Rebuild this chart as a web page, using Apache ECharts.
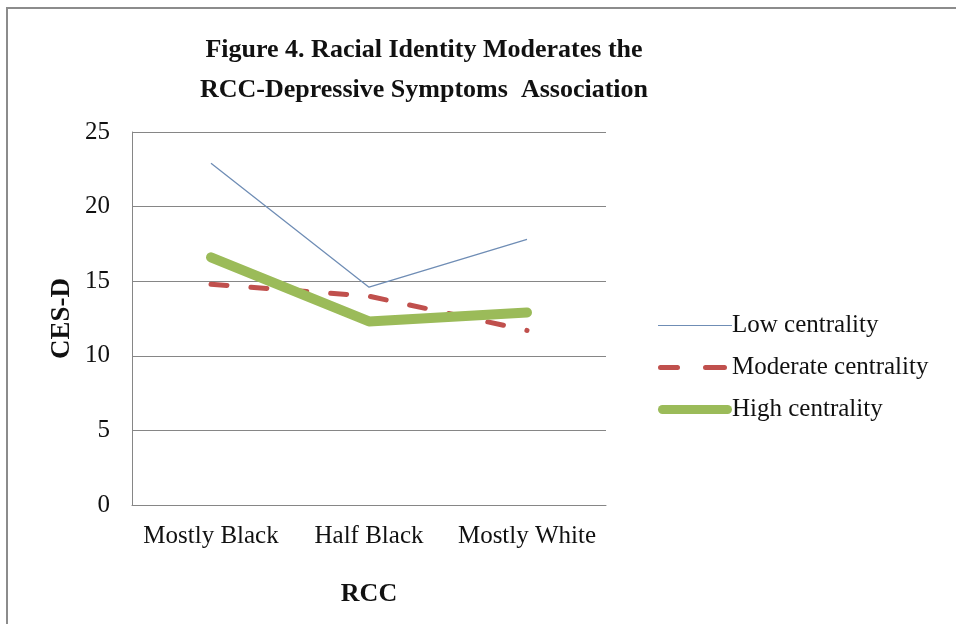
<!DOCTYPE html>
<html>
<head>
<meta charset="utf-8">
<script src="https://cdn.jsdelivr.net/npm/echarts@6/dist/echarts.min.js"></script>
<style>
  html, body { margin: 0; padding: 0; background: #fff; }
  #chart { width: 956px; height: 624px; }
</style>
</head>
<body>
<div id="chart"></div>
<script>
// data
const categories = ['Mostly Black', 'Half Black', 'Mostly White'];
const lowCentrality = [22.9, 14.6, 17.8];
const moderateCentrality = [14.8, 14.0, 11.7];
const highCentrality = [16.6, 12.3, 12.9];

const serif = 'Liberation Serif, Times New Roman, serif';

// legend swatches like the Excel ones (box 74x10, first two moves fix the bounds)
const iconThin = 'path://M0,0M74,10M0,4.4h74v1.2h-74z';
const iconDash = 'path://M0,0M74,10M2.5,2.5h17a2.5,2.5 0 0 1 0,5h-17a2.5,2.5 0 0 1 0,-5zM47.5,2.5h19a2.5,2.5 0 0 1 0,5h-19a2.5,2.5 0 0 1 0,-5z';
const iconThick = 'path://M0,0M74,10M4.5,0.5h65a4.5,4.5 0 0 1 0,9h-65a4.5,4.5 0 0 1 0,-9z';

const chart = echarts.init(document.getElementById('chart'));
chart.setOption({
  backgroundColor: '#fff',
  animation: false,
  title: {
    text: 'Figure 4. Racial Identity Moderates the\nRCC-Depressive Symptoms  Association',
    left: 419,
    top: 25,
    textAlign: 'center',
    textStyle: {
      fontFamily: serif,
      fontSize: 26,
      fontWeight: 'bold',
      color: '#111',
      lineHeight: 40,
    },
  },
  graphic: [
    {
      type: 'polyline',
      shape: { points: [[7, 624], [7, 8], [956, 8]] },
      style: { stroke: '#8c8c8c', lineWidth: 2, fill: null },
    },
  ],
  legend: {
    orient: 'vertical',
    left: 653,
    top: 308,
    itemWidth: 74,
    itemHeight: 10,
    itemGap: 17,
    symbolKeepAspect: false,
    textStyle: { fontFamily: serif, fontSize: 25, color: '#111', padding: [0, 0, 0, -5] },
    data: [
      { name: 'Low centrality', icon: iconThin },
      { name: 'Moderate centrality', icon: iconDash },
      { name: 'High centrality', icon: iconThick },
    ],
  },
  grid: { left: 132, right: 350, top: 132, bottom: 119 },
  xAxis: {
    type: 'category',
    data: categories,
    boundaryGap: true,
    name: 'RCC',
    nameLocation: 'middle',
    nameGap: 76,
    nameTextStyle: { fontFamily: serif, fontSize: 26, fontWeight: 'bold', color: '#111' },
    axisLine: { lineStyle: { color: '#868686', width: 1 } },
    axisTick: { show: false },
    axisLabel: { fontFamily: serif, fontSize: 25, color: '#111', margin: 19, interval: 0 },
  },
  yAxis: {
    type: 'value',
    min: 0,
    max: 25,
    interval: 5,
    name: 'CES-D',
    nameLocation: 'middle',
    nameGap: 56,
    nameRotate: 90,
    nameTextStyle: { fontFamily: serif, fontSize: 27, fontWeight: 'bold', color: '#111' },
    axisLine: { show: true, lineStyle: { color: '#868686', width: 1 } },
    axisTick: { show: false },
    axisLabel: { fontFamily: serif, fontSize: 25, color: '#111', margin: 22 },
    splitLine: { lineStyle: { color: '#868686', width: 1 } },
  },
  series: [
    {
      name: 'Low centrality',
      type: 'line',
      data: lowCentrality,
      symbol: 'none',
      color: '#6f8db5',
      lineStyle: { color: '#6f8db5', width: 1.3 },
      z: 4,
    },
    {
      name: 'Moderate centrality',
      type: 'line',
      data: moderateCentrality,
      symbol: 'none',
      color: '#c0504d',
      lineStyle: { color: '#c0504d', width: 5, type: [16, 24], cap: 'round' },
      z: 2,
    },
    {
      name: 'High centrality',
      type: 'line',
      data: highCentrality,
      symbol: 'none',
      color: '#9bbb59',
      lineStyle: { color: '#9bbb59', width: 10, cap: 'round', join: 'round' },
      z: 3,
    },
  ],
});
</script>
</body>
</html>
